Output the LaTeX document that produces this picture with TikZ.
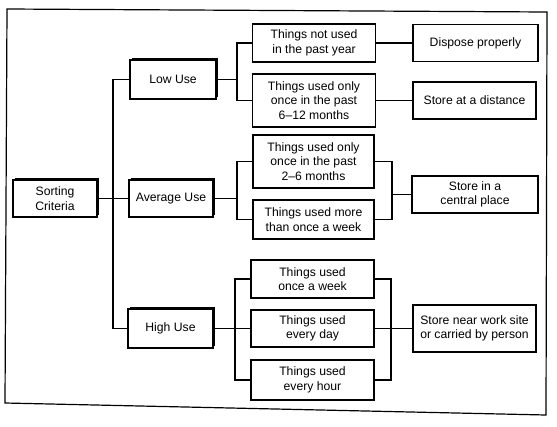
\documentclass[tikz,border=0pt]{standalone}
\usepackage{fontspec}
\setmainfont{Liberation Sans}
\usetikzlibrary{shadows}
\begin{document}
\begin{tikzpicture}[x=1pt,y=-1pt,
  box/.style={draw=black, fill=white, line width=1.2pt, align=center, inner sep=1pt,
    font=\fontsize{12.2}{14.5}\selectfont, text=black},
  mainbox/.style={box, general shadow={fill=black, shadow xshift=1.8pt, shadow yshift=1.8pt}},
  conn/.style={draw=black, line width=1.2pt}]
\useasboundingbox (0,0) rectangle (557,426);
\draw[line width=1.2pt] (7,9) -- (547,12) -- (546,415) -- (5,403) -- cycle;

% level 1
\node[mainbox, minimum width=84pt, minimum height=37pt] (sc) at (55,198.5) {Sorting\\Criteria};
\node[mainbox, minimum width=86pt, minimum height=39pt] (low) at (173,79.5) {Low Use};
\node[mainbox, minimum width=84pt, minimum height=37pt] (avg) at (171,198.5) {Average Use};
\node[mainbox, minimum width=85pt, minimum height=39pt] (high) at (170.5,328.5) {High Use};

% level 2
\node[box, minimum width=123pt, minimum height=38pt] (a) at (314,43) {Things not used\\in the past year};
\node[box, minimum width=123pt, minimum height=53pt] (b) at (314,100.5) {Things used only\\once in the past\\6–12 months};
\node[box, minimum width=121pt, minimum height=53pt] (c) at (313.5,161.5) {Things used only\\once in the past\\2–6 months};
\node[box, minimum width=121pt, minimum height=39pt] (d) at (313.5,219.5) {Things used more\\than once a week};
\node[box, minimum width=123pt, minimum height=38pt] (e) at (312.5,279) {Things used\\once a week};
\node[box, minimum width=123pt, minimum height=37pt] (f) at (312.5,328.5) {Things used\\every day};
\node[box, minimum width=123pt, minimum height=40pt] (g) at (312.5,380) {Things used\\every hour};

% level 3
\node[box, minimum width=125pt, minimum height=37pt] (r1) at (475.5,43) {Dispose properly};
\node[box, minimum width=123pt, minimum height=37pt] (r2) at (474.5,100.5) {Store at a distance};
\node[box, minimum width=126pt, minimum height=37pt] (r3) at (475,194.5) {Store in a\\central place};
\node[box, minimum width=123pt, minimum height=47pt] (r4) at (474.5,328.5) {Store near work site\\or carried by person};

% junctions
\coordinate (trunk) at (113,198.5);
\coordinate (j1) at (237,79.5);
\coordinate (j2) at (237,198.5);
\coordinate (j3) at (235,328.5);
\coordinate (j4) at (392,194.5);
\coordinate (j5) at (391,328.5);

% connectors
\draw[conn] (low.west) -| (trunk) |- (high.west);
\draw[conn] (sc.east) -- (avg.west);
\draw[conn] (low.east) -- (j1);
\draw[conn] (a.west) -| (j1) |- (b.west);
\draw[conn] (avg.east) -- (j2);
\draw[conn] (c.west) -| (j2) |- (d.west);
\draw[conn] (high.east) -- (f.west);
\draw[conn] (e.west) -| (j3) |- (g.west);
\draw[conn] (a.east) -- (r1.west);
\draw[conn] (b.east) -- (r2.west);
\draw[conn] (c.east) -| (j4) |- (d.east);
\draw[conn] (j4) -- (r3.west);
\draw[conn] (e.east) -| (j5) |- (g.east);
\draw[conn] (f.east) -- (r4.west);
\end{tikzpicture}
\end{document}
